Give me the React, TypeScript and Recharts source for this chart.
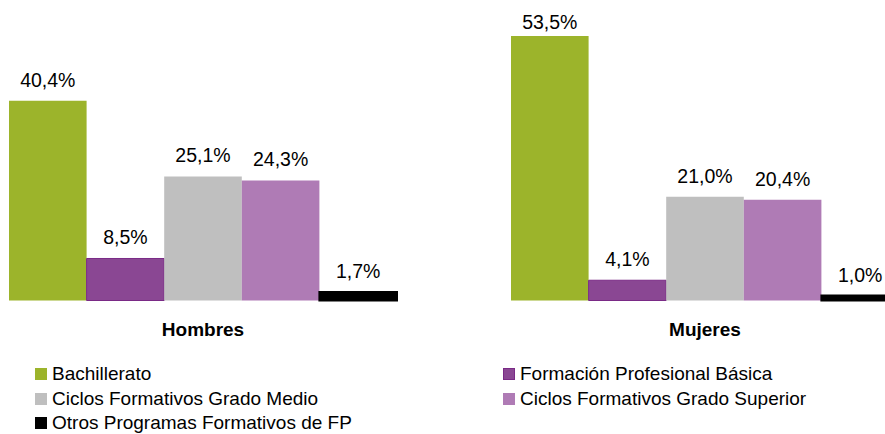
import { BarChart, Bar, XAxis, YAxis, Legend } from "recharts";

const categories = ["Hombres", "Mujeres"];
const bachillerato = [40.4, 53.5];
const fpBasica = [8.5, 4.1];
const cfMedio = [25.1, 21.0];
const cfSuperior = [24.3, 20.4];
const otrosFP = [1.7, 1.0];

const SERIES = [
  { key: "bachillerato", name: "Bachillerato", fill: "#9CB42B", stroke: "none", strokeWidth: 0, values: bachillerato },
  { key: "fpBasica", name: "Formación Profesional Básica", fill: "#8A4793", stroke: "#7A2A86", strokeWidth: 1, values: fpBasica },
  { key: "cfMedio", name: "Ciclos Formativos Grado Medio", fill: "#BFBFBF", stroke: "none", strokeWidth: 0, values: cfMedio },
  { key: "cfSuperior", name: "Ciclos Formativos Grado Superior", fill: "#AF7BB5", stroke: "none", strokeWidth: 0, values: cfSuperior },
  { key: "otros", name: "Otros Programas Formativos de FP", fill: "#000000", stroke: "#000000", strokeWidth: 2, values: otrosFP },
];

const data = categories.map((name, i) => {
  const row: Record<string, string | number> = { name };
  SERIES.forEach((s) => {
    row[s.key] = s.values[i];
  });
  return row;
});

const FONT = "'Liberation Sans', Arial, sans-serif";
const NARROW = "'Liberation Sans Narrow', 'Arial Narrow', 'Liberation Sans', Arial, sans-serif";

const fmt = (v: number) => v.toFixed(1).replace(".", ",") + "%";

const renderValueLabel = (props: any) => {
  const { x, y, width, value } = props;
  // labels that would leave the plot get pushed down, like the original
  const baseline = Math.max(y - 14, 28.5);
  return (
    <text
      x={x + width / 2}
      y={baseline}
      textAnchor="middle"
      fontSize={19.5}
      fontFamily={NARROW}
      fill="#000"
    >
      {fmt(value)}
    </text>
  );
};

const CategoryTick = (props: any) => {
  const { x, y, payload } = props;
  return (
    <text x={x} y={y + 35} textAnchor="middle" fontSize={19} fontWeight="bold" fontFamily={FONT} fill="#000">
      {payload.value}
    </text>
  );
};

const renderLegend = () => (
  <div
    style={{
      display: "grid",
      gridTemplateColumns: "468px 400px",
      fontFamily: FONT,
      fontSize: 19,
      color: "#000",
    }}
  >
    {SERIES.map((s) => (
      <div key={s.key} style={{ display: "flex", alignItems: "center", height: 24.5, whiteSpace: "nowrap" }}>
        <span
          style={{
            display: "inline-block",
            width: 12,
            height: 12,
            background: s.fill,
            marginRight: 5,
            boxSizing: "border-box",
            border: s.key === "fpBasica" ? "1px solid #7A2A86" : "none",
          }}
        />
        {s.name}
      </div>
    ))}
  </div>
);

export default function App() {
  return (
    <div
      style={{
        position: "absolute",
        left: 0,
        top: 0,
        width: 885,
        height: 434,
        overflow: "hidden",
        background: "#fff",
        fontFamily: FONT,
      }}
    >
      <div style={{ position: "absolute", left: -48, top: 0 }}>
        <BarChart
          width={1004}
          height={434}
          data={data}
          margin={{ top: 4, right: 0, left: 0, bottom: 93.5 }}
          barCategoryGap={57}
          barGap={0}
          barSize={77.6}
        >
          <XAxis
            dataKey="name"
            axisLine={false}
            tickLine={false}
            tickSize={0}
            tickMargin={0}
            height={40}
            tick={<CategoryTick />}
            interval={0}
          />
          <YAxis hide domain={[0, 60]} />
          <Legend
            layout="vertical"
            align="center"
            verticalAlign="middle"
            content={renderLegend}
            wrapperStyle={{ left: 83, top: 362, width: 880, height: 75 }}
          />
          {SERIES.map((s) => (
            <Bar
              key={s.key}
              dataKey={s.key}
              name={s.name}
              fill={s.fill}
              stroke={s.stroke}
              strokeWidth={s.strokeWidth}
              isAnimationActive={false}
              label={renderValueLabel}
            />
          ))}
        </BarChart>
      </div>
    </div>
  );
}
